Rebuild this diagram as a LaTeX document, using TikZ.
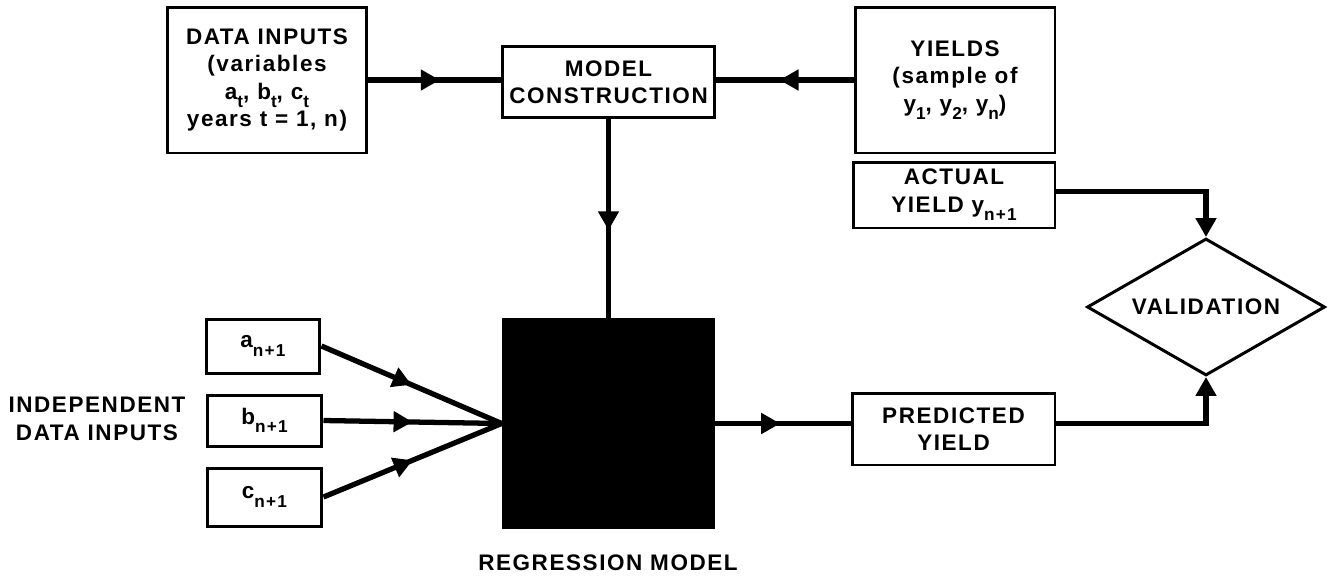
\documentclass[tikz,border=0pt]{standalone}
\usepackage{fontspec}
\setmainfont{Liberation Sans}[LetterSpace=7]
\usetikzlibrary{shapes.geometric, arrows.meta, decorations.markings}

\newcommand{\lowidx}[1]{\raisebox{-0.7ex}{\fontsize{9.8}{9.8}\selectfont #1}}

\begin{document}
\begin{tikzpicture}[x=0.02cm, y=-0.02cm,
    box/.style={draw, line width=1.7pt, align=center, inner sep=0pt, font=\fontsize{12.8}{15.6}\selectfont\bfseries},
    link/.style={line width=3pt},
    midarrow/.style={postaction={decorate}, decoration={markings, mark=at position #1 with {\arrow{Triangle[length=0.38cm, width=0.4cm]}}}},
    midarrow/.default=0.55,
    endtip/.style={-{Triangle[length=0.38cm, width=0.4cm]}}
]
    \useasboundingbox (0,0) rectangle (1335,576);

    % Top row
    \node[box, minimum width=4cm, minimum height=2.92cm] (data) at (267,80) {DATA INPUTS\\(variables\\a\lowidx{t}, b\lowidx{t}, c\lowidx{t}\\years t = 1, n)};
    \node[box, minimum width=4.26cm, minimum height=1.42cm] (model) at (608.5,82) {MODEL\\CONSTRUCTION};
    \node[box, minimum width=4cm, minimum height=2.92cm] (yields) at (955,80) {YIELDS\\(sample of\\y\lowidx{1}, y\lowidx{2}, y\lowidx{n})};

    % Right column
    \node[box, minimum width=4.04cm, minimum height=1.32cm] (actual) at (954,195) {ACTUAL\\YIELD y\lowidx{n+1}};
    \node[box, diamond, aspect=1.74, minimum width=4.76cm, minimum height=2.74cm] (valid) at (1206,307) {VALIDATION};
    \node[box, minimum width=4.06cm, minimum height=1.44cm] (predicted) at (953.5,429) {PREDICTED\\YIELD};

    % Independent inputs
    \node[box, minimum width=2.28cm, minimum height=1.08cm] (ina) at (263,346) {a\lowidx{n+1}};
    \node[box, minimum width=2.3cm, minimum height=1.02cm] (inb) at (264.5,420.5) {b\lowidx{n+1}};
    \node[box, minimum width=2.3cm, minimum height=1.16cm] (inc) at (264.5,497) {c\lowidx{n+1}};
    \node[align=center, font=\fontsize{12.8}{15.6}\selectfont\bfseries] (indep) at (97,419) {INDEPENDENT\\DATA INPUTS};

    % Regression model
    \node[fill=black, inner sep=0pt, minimum width=4.26cm, minimum height=4.22cm] (regr) at (608.5,423.5) {};
    \node[font=\fontsize{12.8}{15.6}\selectfont\bfseries] (regrlabel) at (608,563) {REGRESSION MODEL};

    % Connectors
    \draw[link, midarrow=0.54] (data.east) -- (data.east -| model.west);
    \draw[link, midarrow=0.54] (yields.west) -- (yields.west -| model.east);
    \draw[link, midarrow=0.56] (model.south) -- (regr.north);
    \draw[link, midarrow=0.5] (ina.east) -- (regr.west);
    \draw[link, midarrow=0.5] (inb.east) -- (regr.west);
    \draw[link, midarrow=0.5] (inc.east) -- (regr.west);
    \draw[link, midarrow=0.48] (regr.east) -- (regr.east -| predicted.west);
    \draw[link, endtip] (predicted.east |- regr.east) -| (valid.south);
    \draw[link, endtip] ([yshift=2pt]actual.east) -| (valid.north);

\end{tikzpicture}
\end{document}
